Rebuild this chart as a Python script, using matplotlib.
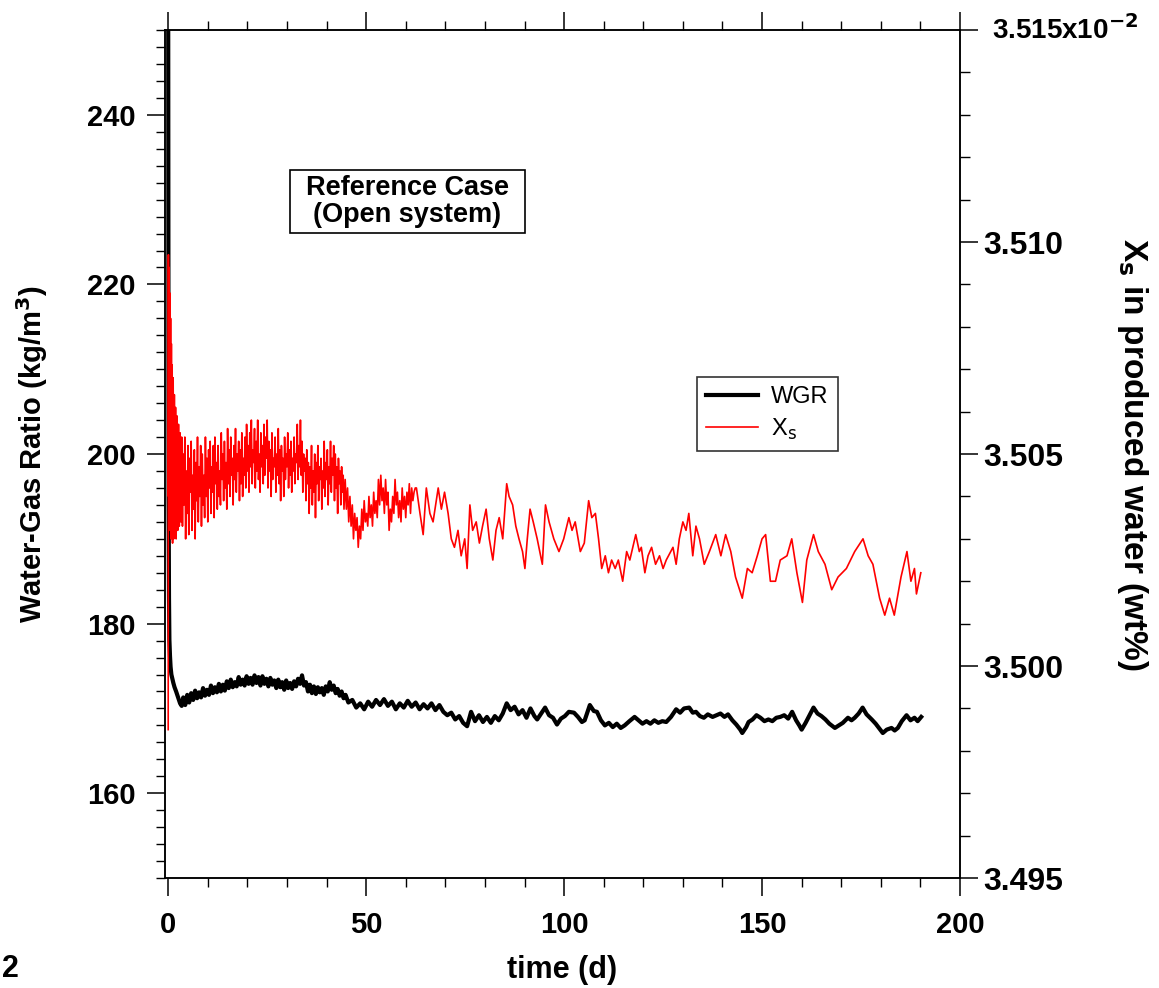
import matplotlib
matplotlib.use("Agg")
import matplotlib.pyplot as plt
from matplotlib.lines import Line2D
from matplotlib.patches import Rectangle

plt.rcParams['font.family'] = ['Liberation Sans', 'DejaVu Sans']

# ---------------- data ----------------
# WGR (left axis, kg/m^3)
t_wgr = [0, 0.05, 0.1, 0.2, 0.3, 0.45, 0.6, 0.8, 1.0, 1.3, 1.6, 2.0, 2.5, 3.0, 3.4,
         3.8, 4.3, 4.8, 5.3, 5.8, 6.3, 6.8, 7.3, 7.8, 8.3, 8.8, 9.3, 9.8, 10.3, 10.8,
         11.3, 11.8, 12.3, 12.8, 13.3, 13.8, 14.3, 14.8, 15.3, 15.8, 16.3, 16.8, 17.3,
         17.8, 18.3, 18.8, 19.3, 19.8, 20.3, 20.8, 21.3, 21.8, 22.3, 22.8, 23.3, 23.8,
         24.3, 24.8, 25.3, 25.8, 26.3, 26.8, 27.3, 27.8, 28.3, 28.8, 29.3, 29.8, 30.3,
         30.8, 31.3, 31.8, 32.3, 32.8, 33.3, 33.8, 34.3, 34.8, 35.3, 35.8, 36.3, 36.8,
         37.3, 37.8, 38.3, 38.8, 39.3, 39.8, 40.3, 40.8, 41.3, 41.8, 42.3, 42.8, 43.3,
         43.8, 44.3, 44.8,
         45.5, 46.5, 47.5, 48.5, 49.5, 50.5, 51.5, 52.5, 53.5, 54.5, 55.5, 56.5, 57.5,
         58.5, 59.5, 60.5, 61.5, 62.5, 63.5, 64.5, 65.5, 66.5, 67.5, 68.5, 69.5, 70.5,
         71.5, 72.5, 73.5, 74.5, 75.5, 76.5, 77.5, 78.5, 79.5, 80.5, 81.5, 82.5, 83.5,
         84.5, 85.5, 86.5, 87.5, 88.5, 89.5, 90.5, 91.5, 92.5,
         93.2, 94.2, 95.2, 96.2, 97.2, 98.2, 99.2, 100.2, 101.2, 102.5, 103.5, 104.5,
         105.2, 106.5, 107.5, 108.3, 109.3, 110.3, 111.3, 112.3, 113.3, 114.3, 115.3,
         116.5, 117.8, 118.8, 119.8, 120.8, 121.8, 122.8, 123.8, 124.8, 125.8, 127.0,
         128.3, 129.3, 130.3, 131.6, 132.5, 133.3, 134.3, 135.3, 136.3, 137.5, 138.5,
         139.5, 140.5, 141.4, 142.5, 143.5, 144.5, 145.0, 146.0, 146.6, 147.6, 148.6,
         149.6, 150.6, 151.6, 152.6, 153.6, 154.6, 155.6, 156.6, 157.6, 158.6, 159.4,
         160.0, 161.0, 162.0, 163.0, 164.0, 165.0, 166.0, 167.0, 168.4, 169.4, 170.4,
         171.7, 172.6, 173.4, 174.4, 175.4, 176.4, 177.7, 178.7, 179.7, 180.5, 181.5,
         182.7, 183.5, 184.3, 185.3, 186.5, 187.5, 188.5, 189.3, 190.2]
wgr = [252, 215, 195, 183, 178.1, 176.2, 174.9, 174.0, 173.6, 173.0, 172.5, 172.0, 171.3, 170.6, 170.3,
       171.3, 170.4, 171.6, 170.7, 171.8, 171.0, 172.1, 171.2, 171.9, 171.3, 172.4, 171.5, 172.2, 171.6, 172.7,
       171.8, 172.5, 171.9, 172.9, 172.0, 172.8, 172.1, 173.2, 172.4, 173.4, 172.5, 173.1, 172.6,
       173.7, 172.8, 173.4, 172.7, 173.8, 172.9, 173.6, 172.8, 173.9, 173.0, 173.7, 172.7, 173.8,
       172.9, 173.5, 172.6, 173.6, 172.8, 173.3, 172.4, 173.4, 172.5, 173.1, 172.2, 173.3, 172.4,
       173.0, 172.3, 173.2, 172.6, 173.5, 172.9, 173.9, 172.7, 173.1, 172.0, 172.8, 171.8, 172.6,
       171.7, 172.5, 171.9, 172.4, 171.6, 172.6, 172.0, 173.1, 172.2, 172.7, 171.8, 172.3, 171.5,
       172.0, 171.2, 171.6,
       170.7, 171.0, 170.1, 170.6, 169.9, 170.8, 170.2, 171.0, 170.4, 171.1, 170.3, 170.8, 169.9,
       170.6, 170.1, 170.9, 170.2, 170.7, 169.9, 170.5, 170.0, 170.6, 169.8, 170.4, 169.6, 169.2,
       169.5, 168.7, 169.1, 168.3, 167.9, 169.6, 168.5, 169.2, 168.4, 169.0, 168.3, 169.1, 168.6,
       169.4, 170.6, 169.8, 170.2, 169.3, 169.8, 168.9, 170.0, 169.1,
       168.7, 169.4, 170.1, 169.2, 168.9, 168.1, 168.8, 169.1, 169.6, 169.5, 169.0, 168.4,
       168.6, 170.4, 169.7, 169.6, 168.6, 168.0, 168.3, 167.8, 168.2, 167.7, 168.0,
       168.5, 169.0, 168.6, 168.2, 168.5, 168.2, 168.6, 168.3, 168.5, 168.4, 169.0,
       169.9, 169.5, 170.0, 170.1, 169.5, 169.6, 169.1, 168.9, 169.3, 169.0, 169.2,
       169.4, 169.0, 169.3, 168.6, 168.1, 167.5, 167.1, 167.8, 168.4, 168.7, 169.2,
       168.9, 168.5, 168.7, 168.5, 168.9, 169.0, 169.2, 168.8, 169.6, 168.6, 168.0,
       167.5, 168.3, 169.2, 170.1, 169.4, 169.1, 168.7, 168.2, 167.7, 168.0, 168.3,
       168.9, 168.6, 168.9, 169.4, 170.1, 169.3, 168.7, 168.2, 167.6, 167.1, 167.5,
       167.7, 167.4, 167.7, 168.5, 169.2, 168.6, 168.9, 168.5, 169.0]

# X_s (right axis, x10^-2 wt%)
# part 1: initial spike, t = 0 ... 3.4 d
t_xs_spike = [0, 0.05, 0.1, 0.2, 0.3, 0.4, 0.5, 0.6, 0.7, 0.8, 0.9, 1.0, 1.1, 1.25, 1.4,
              1.55, 1.7, 1.85, 2.0, 2.2, 2.4, 2.6, 2.8, 3.0, 3.2, 3.4]
xs_spike = [3.4985, 3.5097, 3.5040, 3.5094, 3.5035, 3.5088, 3.5032, 3.5082, 3.5030, 3.5076,
            3.5031, 3.5071, 3.5029, 3.5068, 3.5030, 3.5064, 3.5031, 3.5061, 3.5030, 3.5059,
            3.5032, 3.5057, 3.5033, 3.5055, 3.5034, 3.5054]
# part 2: dense noisy band, samples every 0.2 d from t = 3.6 d
xs_band_start, xs_band_step = 3.6, 0.2
xs_band = [3.5033, 3.5050, 3.5038, 3.5054, 3.5030, 3.5046, 3.5036, 3.5052, 3.5031, 3.5049,
           3.5041, 3.5053, 3.5032, 3.5045, 3.5037, 3.5051, 3.5030, 3.5048, 3.5039, 3.5054,
           3.5034, 3.5047, 3.5040, 3.5052, 3.5033, 3.5050, 3.5038, 3.5045, 3.5035, 3.5054,
           3.5040, 3.5049, 3.5034, 3.5051, 3.5042, 3.5053, 3.5036, 3.5047, 3.5041, 3.5052,
           3.5035, 3.5054, 3.5043, 3.5048, 3.5037, 3.5052, 3.5040, 3.5046, 3.5038, 3.5055,
           3.5044, 3.5050, 3.5039, 3.5053, 3.5042, 3.5048, 3.5037, 3.5056, 3.5043, 3.5051,
           3.5040, 3.5054, 3.5045, 3.5049, 3.5038, 3.5052, 3.5044, 3.5056, 3.5041, 3.5050,
           3.5046, 3.5053, 3.5039, 3.5051, 3.5043, 3.5055, 3.5040, 3.5049, 3.5045, 3.5054,
           3.5042, 3.5057, 3.5046, 3.5052, 3.5041, 3.5055, 3.5047, 3.5058, 3.5043, 3.5051,
           3.5048, 3.5056, 3.5042, 3.5053, 3.5046, 3.5058, 3.5044, 3.5050, 3.5041, 3.5055,
           3.5047, 3.5052, 3.5043, 3.5057, 3.5045, 3.5054, 3.5049, 3.5058, 3.5042, 3.5053,
           3.5046, 3.5051, 3.5040, 3.5055, 3.5044, 3.5049, 3.5047, 3.5054, 3.5041, 3.5050,
           3.5045, 3.5056, 3.5043, 3.5051, 3.5039, 3.5052, 3.5046, 3.5049, 3.5040, 3.5054,
           3.5044, 3.5050, 3.5047, 3.5055, 3.5042, 3.5051, 3.5045, 3.5053, 3.5041, 3.5049,
           3.5046, 3.5054, 3.5043, 3.5050, 3.5048, 3.5057, 3.5044, 3.5052, 3.5047, 3.5058,
           3.5045, 3.5053, 3.5041, 3.5050, 3.5046, 3.5049, 3.5039, 3.5051, 3.5043, 3.5048,
           3.5036, 3.5047, 3.5042, 3.5052, 3.5038, 3.5046, 3.5041, 3.5050, 3.5035, 3.5048,
           3.5043, 3.5052, 3.5039, 3.5047, 3.5044, 3.5049, 3.5037, 3.5046, 3.5042, 3.5053,
           3.5040, 3.5048, 3.5044, 3.5051, 3.5038, 3.5047, 3.5043, 3.5053, 3.5041, 3.5049,
           3.5045, 3.5052, 3.5039, 3.5050, 3.5042, 3.5047, 3.5036, 3.5049, 3.5043, 3.5046,
           3.5038, 3.5047, 3.5041, 3.5045, 3.5037]
# part 3: samples every 0.3 d from t = 44.7 d
xs_mid_start, xs_mid_step = 44.7, 0.3
xs_mid = [3.5044, 3.5037, 3.5042, 3.5034, 3.5040, 3.5033, 3.5038, 3.5030, 3.5036, 3.5032,
          3.5035, 3.5028, 3.5033, 3.5030, 3.5037, 3.5032, 3.5039, 3.5034, 3.5036, 3.5033,
          3.5040, 3.5035, 3.5038, 3.5033, 3.5041, 3.5036, 3.5039, 3.5035, 3.5044, 3.5038,
          3.5045, 3.5039, 3.5042, 3.5036, 3.5044, 3.5038, 3.5041, 3.5032, 3.5037, 3.5034,
          3.5040, 3.5036, 3.5044, 3.5038, 3.5041, 3.5035, 3.5039, 3.5034, 3.5042, 3.5037,
          3.5040, 3.5035, 3.5041, 3.5038, 3.5043, 3.5036, 3.5042, 3.5039, 3.5041, 3.5042]
# part 4: later record, t = 62.7 ... 190.1 d
t_xs_late = [62.7, 63.6, 64.4, 65.2, 66.1, 66.9, 68.2, 69.0, 69.8, 70.7, 71.5, 72.3, 73.2,
             74.0, 74.9, 75.5, 76.2, 76.9, 77.8, 78.6, 79.4, 80.3, 81.1, 82.0, 82.8, 83.6,
             84.5, 85.5, 86.1, 87.0, 87.8, 88.6, 89.5, 90.1, 90.7, 91.4, 92.2, 93.2, 94.5,
             95.3, 96.2, 97.4, 98.7, 99.9, 101.2, 102.0, 102.8, 104.1, 105.1, 106.2, 107.0,
             107.9, 108.7, 109.5, 110.4, 111.2, 112.0, 112.9, 113.7, 114.8, 115.8, 116.6,
             118.1, 119.0, 119.5, 120.4, 121.2, 122.1, 123.1, 124.1, 125.0,
             125.8, 127.5, 128.3, 129.1, 130.0, 130.8, 131.5, 132.5, 133.3, 134.2, 135.4,
             136.7, 138.3, 139.6, 140.8, 142.1, 143.3, 145.0, 146.3, 147.5, 148.8, 150.0,
             150.9, 152.1, 153.4, 154.6, 156.3, 157.5, 158.8, 160.2, 161.3, 163.0, 164.2,
             165.9, 167.6, 169.2, 171.3, 173.4, 175.5, 176.8, 178.0, 179.7, 181.0, 182.2,
             183.4, 185.1, 186.6, 187.6, 188.5, 189.0, 190.1]
xs_late = [3.5042, 3.5036, 3.5031, 3.5042, 3.5036, 3.5034, 3.5042, 3.5037, 3.5041, 3.5036,
           3.5030, 3.5028, 3.5032, 3.5026, 3.5030, 3.5023, 3.5038, 3.5032, 3.5034, 3.5029,
           3.5033, 3.5037, 3.5030, 3.5025, 3.5032, 3.5035, 3.5030, 3.5043, 3.5040, 3.5038,
           3.5033, 3.5030, 3.5027, 3.5023, 3.5030, 3.5037, 3.5034, 3.5030, 3.5024, 3.5038,
           3.5034, 3.5030, 3.5027, 3.5030, 3.5035, 3.5032, 3.5034, 3.5027, 3.5029, 3.5039,
           3.5035, 3.5036, 3.5030, 3.5023, 3.5026, 3.5022, 3.5025, 3.5023, 3.5025, 3.5020,
           3.5027, 3.5025, 3.5031, 3.5027, 3.5028, 3.5022, 3.5026, 3.5028, 3.5024, 3.5026,
           3.5023,
           3.5025, 3.5028, 3.5024, 3.5030, 3.5034, 3.5032, 3.5036, 3.5026, 3.5033, 3.5030,
           3.5024, 3.5027, 3.5031, 3.5026, 3.5031, 3.5027, 3.5021, 3.5016, 3.5023, 3.5022,
           3.5026, 3.5030, 3.5031, 3.5020, 3.5020, 3.5025, 3.5026, 3.5030, 3.5022, 3.5015,
           3.5025, 3.5031, 3.5027, 3.5024, 3.5018, 3.5021, 3.5023, 3.5027, 3.5030, 3.5026,
           3.5024, 3.5016, 3.5012, 3.5016, 3.5012, 3.5021, 3.5027, 3.5020, 3.5023, 3.5017,
           3.5022]

x_ticks = [0, 50, 100, 150, 200]
left_ticks = [160, 180, 200, 220, 240]
right_ticks = [3.495, 3.500, 3.505, 3.510, 3.515]
right_ticklabels = ["3.495", "3.500", "3.505", "3.510", ""]

# assemble the X_s record
t_xs = (t_xs_spike
        + [round(xs_band_start + xs_band_step * i, 2) for i in range(len(xs_band))]
        + [round(xs_mid_start + xs_mid_step * i, 2) for i in range(len(xs_mid))]
        + t_xs_late)
xs = xs_spike + xs_band + xs_mid + xs_late

# ---------------- figure ----------------
fig = plt.figure(figsize=(11.59, 9.88), dpi=100)
ax = fig.add_axes([0.1424, 0.1113, 0.6859, 0.8583])
ax2 = ax.twinx()

ax.plot(t_wgr, wgr, color='black', lw=3.0)
ax2.plot(t_xs, xs, color='#ff0000', lw=1.2)

ax.set_xlim(-0.8, 198.5)
ax.set_ylim(150, 250)
ax2.set_ylim(3.495, 3.515)

ax.set_xticks(x_ticks)
ax.set_xticks(range(0, 200, 10), minor=True)
ax.set_yticks(left_ticks)
ax.set_yticks([v for v in range(150, 251, 2)], minor=True)
ax2.set_yticks(right_ticks)
ax2.set_yticklabels(right_ticklabels)
ax2.set_yticks([3.495 + 0.001 * i for i in range(21)], minor=True)

for a in (ax, ax2):
    for s in a.spines.values():
        s.set_linewidth(1.1)
ax.tick_params(axis='both', which='major', direction='out', length=13, width=1.1,
               top=True, labelsize=21)
ax.tick_params(axis='both', which='minor', direction='out', length=6.5, width=1.0, top=True)
ax.tick_params(axis='y', pad=8)
ax.tick_params(axis='x', pad=11)
ax2.tick_params(axis='y', which='major', direction='out', length=13, width=1.1, labelsize=23, pad=4)
ax2.tick_params(axis='y', which='minor', direction='out', length=7, width=1.0)
for lab in ax.get_xticklabels() + ax.get_yticklabels() + ax2.get_yticklabels():
    lab.set_fontweight('bold')

ax2.text(1.04, 1.0, "3.515x10$^{\\mathbf{-2}}$", transform=ax2.transAxes, fontsize=20,
         fontweight='bold', ha='left', va='center')

ax.set_xlabel("time (d)", fontsize=22, fontweight='bold', labelpad=11)
ax.set_ylabel("Water-Gas Ratio (kg/m$^{\\mathbf{3}}$)", fontsize=21, fontweight='bold', labelpad=27)
ax2.set_ylabel("X$_{\\mathbf{s}}$ in produced water (wt%)", fontsize=24, fontweight='bold',
               rotation=270, labelpad=62)

# annotation box
ax.add_patch(Rectangle((0.1572, 0.7606), 0.2956, 0.0743, transform=ax.transAxes,
                       fc='white', ec='black', lw=1.2, zorder=4))
ax.text(0.305, 0.798, "Reference Case\n(Open system)", transform=ax.transAxes,
        fontsize=19.5, fontweight='bold', ha='center', va='center', linespacing=1.05, zorder=5)

handles = [Line2D([], [], color='black', lw=3.0), Line2D([], [], color='#ff0000', lw=1.2)]
leg = ax2.legend(handles, ["WGR", "X$_\\mathrm{s}$"], loc='upper left',
                 bbox_to_anchor=(0.669, 0.5908), borderaxespad=0, fontsize=17, frameon=True,
                 fancybox=False, edgecolor='black', handlelength=2.2, borderpad=0.4,
                 labelspacing=0.35, handletextpad=0.55)
leg.get_frame().set_linewidth(1.2)

fig.text(0.002, 0.004, "2", fontsize=22, fontweight='bold', ha='left', va='bottom')

fig.savefig("out.png", dpi=100)
